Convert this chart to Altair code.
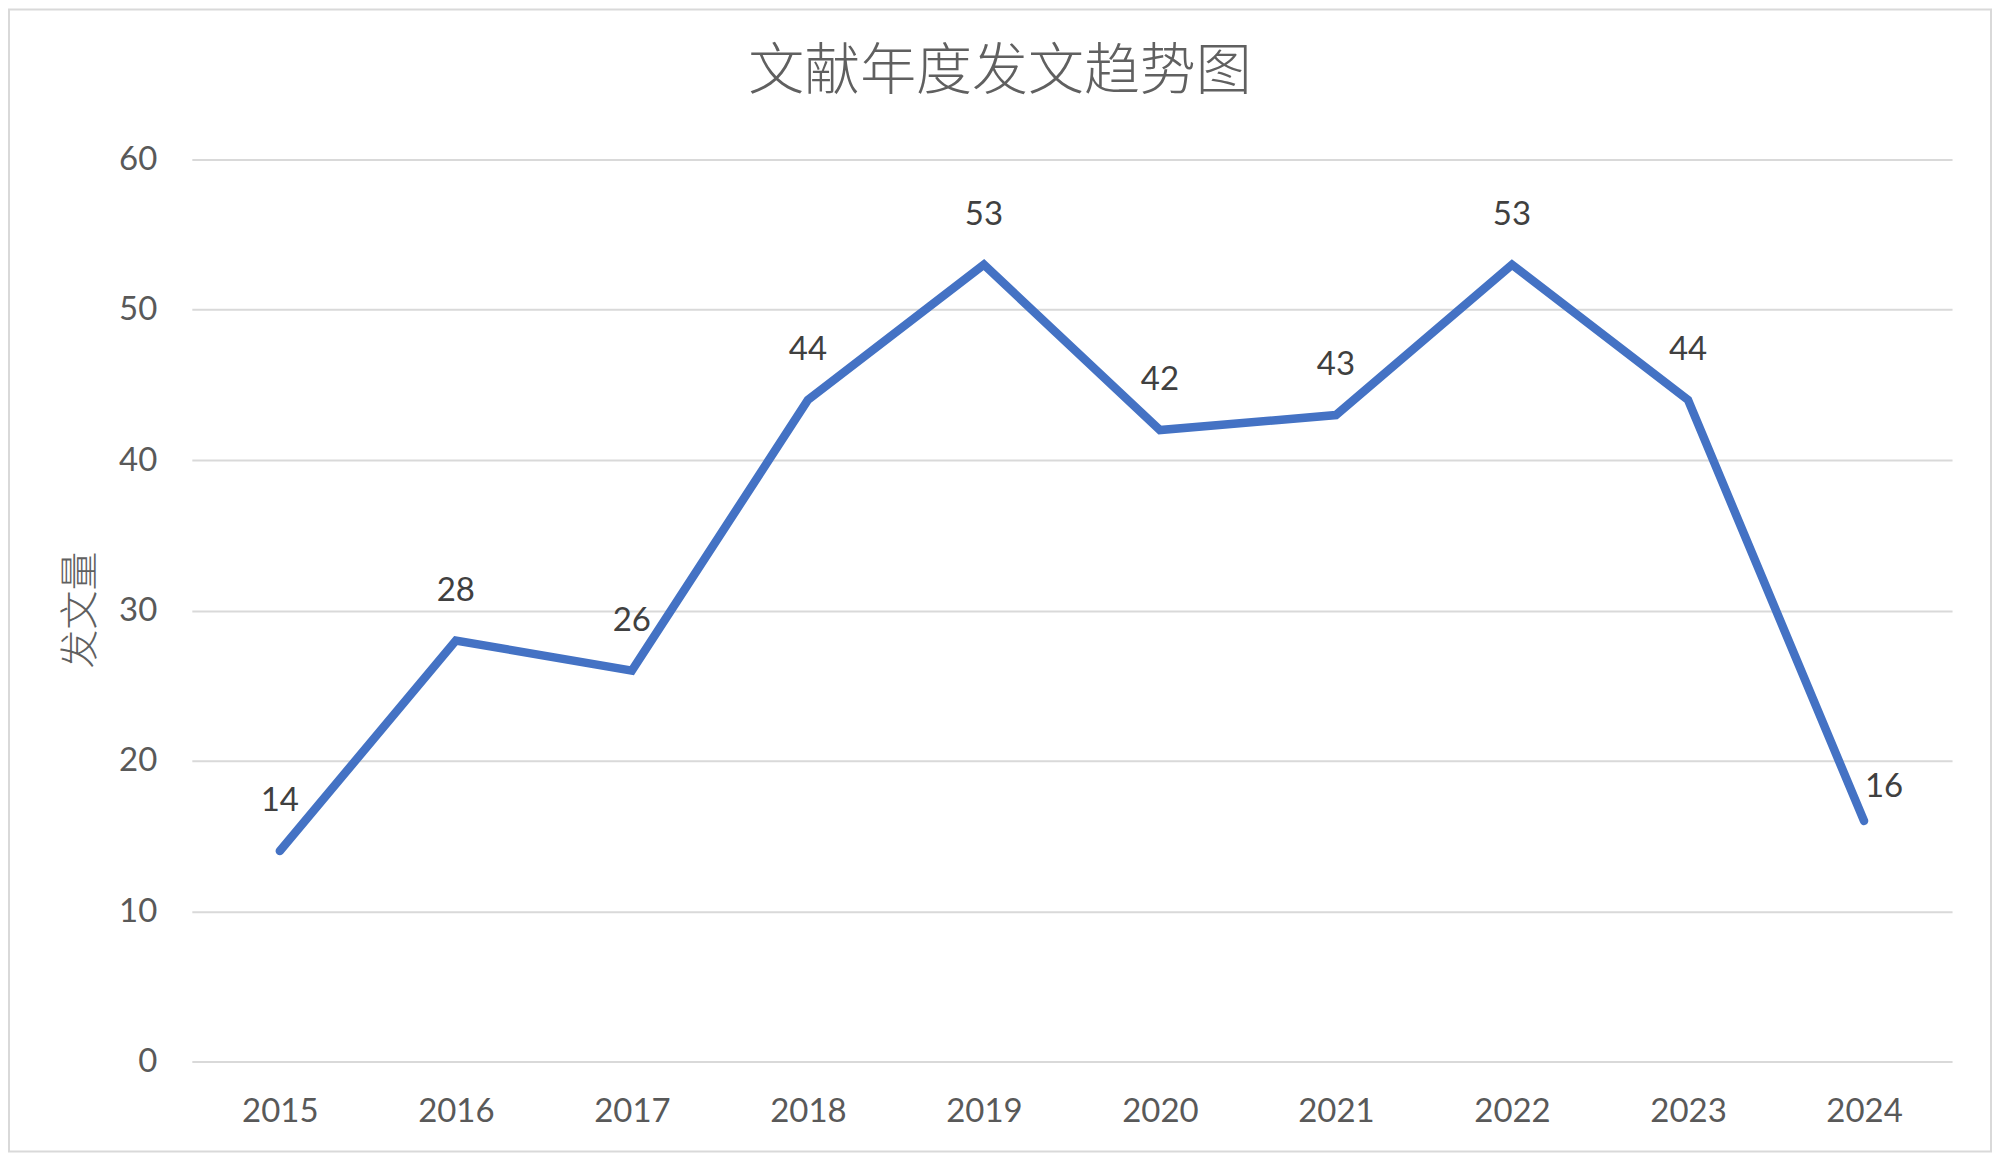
import altair as alt
import pandas as pd

years = ["2015", "2016", "2017", "2018", "2019", "2020", "2021", "2022", "2023", "2024"]
counts = [14, 28, 26, 44, 53, 42, 43, 53, 44, 16]
title_text = "文献年度发文趋势图"
y_title = "发文量"

df = pd.DataFrame({"year": years, "count": counts})

W, H = 1762, 903
LATIN = "Lato"
CJK = "Noto Sans CJK SC"

x_enc = alt.X("year:O", sort=years, scale=alt.Scale(type="point", padding=0.5),
              axis=alt.Axis(title=None, labelAngle=0, labelFont=LATIN, labelFontSize=33,
                            labelColor="#595959", labelPadding=34, ticks=False, domain=False,
                            grid=False))
y_enc = alt.Y("count:Q", scale=alt.Scale(domain=[0, 60], nice=False),
              axis=alt.Axis(title=None, values=[0, 10, 20, 30, 40, 50, 60],
                            labelFont=LATIN, labelFontSize=33, labelColor="#595959",
                            labelPadding=35, ticks=False, domain=False,
                            grid=True, gridColor="#D9D9D9", gridWidth=2))

base = alt.Chart(df)

line = base.mark_line(color="#4472C4", strokeWidth=8.5, strokeCap="round",
                      strokeJoin="miter").encode(x=x_enc, y=y_enc)

labels = base.transform_filter(alt.datum.year != "2024").mark_text(
    font=LATIN, fontSize=33, color="#404040", baseline="middle", align="center", dy=-50
).encode(x=alt.X("year:O", sort=years), y="count:Q", text="count:Q")

last_label = base.transform_filter(alt.datum.year == "2024").mark_text(
    font=LATIN, fontSize=33, color="#404040", baseline="middle", align="center", dx=20, dy=-34
).encode(x=alt.X("year:O", sort=years), y="count:Q", text="count:Q")

one = pd.DataFrame({"k": [0]})

border = alt.Chart(one).mark_rect(fill=None, stroke="#D9D9D9", strokeWidth=2).encode(
    x=alt.value(-183), x2=alt.value(1801), y=alt.value(-150), y2=alt.value(993)
)

title = alt.Chart(pd.DataFrame({"t": [title_text]})).mark_text(
    font=CJK, fontSize=56, fontWeight=300, color="#606060", align="center", baseline="middle"
).encode(x=alt.value(809), y=alt.value(-87), text="t:N")

ytitle = alt.Chart(pd.DataFrame({"t": [y_title]})).mark_text(
    font=CJK, fontSize=39, fontWeight=300, color="#606060", align="center", baseline="middle", angle=270
).encode(x=alt.value(-111), y=alt.value(451), text="t:N")

chart = alt.layer(border, line, labels, last_label, title, ytitle).properties(
    width=W, height=H, padding=0, background="white"
).configure_view(stroke=None)

chart.save("out.html", embed_options={"renderer": "svg", "actions": False})
